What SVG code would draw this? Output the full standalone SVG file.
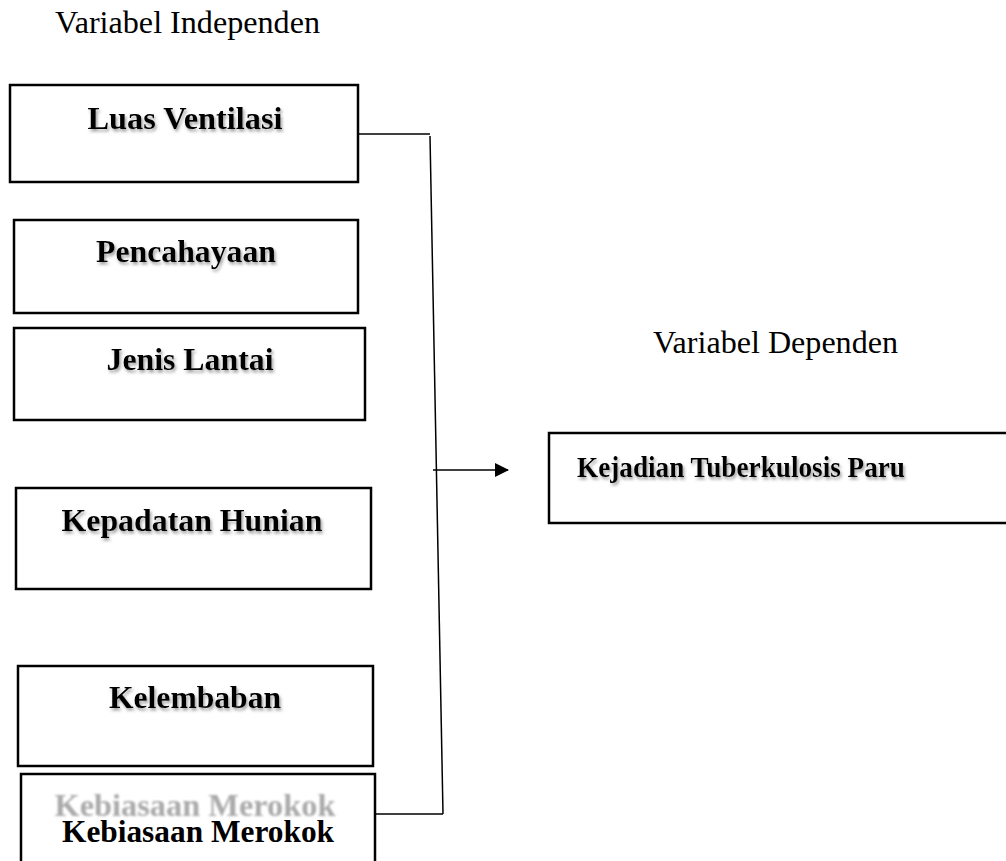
<svg xmlns="http://www.w3.org/2000/svg" width="1006" height="861" viewBox="0 0 1006 861">
<style>
.box{fill:#fff;stroke:#000;stroke-width:2.5}
.lbl{font-family:"Liberation Serif","Times New Roman",serif;font-weight:bold;font-size:32px;fill:#000;text-anchor:middle}
.cap{font-family:"Liberation Serif","Times New Roman",serif;font-size:31px;fill:#000}
.con{fill:none;stroke:#000;stroke-width:1.5}
</style>
<defs>
<filter id="sh" x="-10%" y="-30%" width="120%" height="160%">
<feDropShadow dx="1.5" dy="2.5" stdDeviation="1.5" flood-color="#777" flood-opacity="0.7"/>
</filter>
<filter id="bl"><feGaussianBlur stdDeviation="0.9"/></filter>
<marker id="ah" markerWidth="14" markerHeight="14" refX="13" refY="7" orient="auto" markerUnits="userSpaceOnUse">
<path d="M0,0 L14,7 L0,14 Z" fill="#000"/>
</marker>
</defs>
<text class="cap" x="55" y="33" textLength="265" lengthAdjust="spacingAndGlyphs">Variabel Independen</text>
<text class="cap" x="653" y="353" textLength="245" lengthAdjust="spacingAndGlyphs">Variabel Dependen</text>
<g id="connectors">
<polyline class="con" points="358,134 430,134"/>
<polyline class="con" points="430,136 443,814"/>
<polyline class="con" points="375,814 443,814"/>
<line class="con" x1="433" y1="470" x2="508" y2="470" stroke-width="2" marker-end="url(#ah)"/>
</g>
<g id="n1"><rect class="box" x="10" y="85" width="348" height="97"/>
<text class="lbl" x="185" y="129" textLength="195" lengthAdjust="spacingAndGlyphs" filter="url(#sh)">Luas Ventilasi</text></g>
<g id="n2"><rect class="box" x="14" y="220" width="344" height="93"/>
<text class="lbl" x="186" y="262" textLength="180" lengthAdjust="spacingAndGlyphs" filter="url(#sh)">Pencahayaan</text></g>
<g id="n3"><rect class="box" x="14" y="328" width="351" height="92"/>
<text class="lbl" x="190" y="370" textLength="167" lengthAdjust="spacingAndGlyphs" filter="url(#sh)">Jenis Lantai</text></g>
<g id="n4"><rect class="box" x="16" y="488" width="355" height="101"/>
<text class="lbl" x="192" y="531" textLength="261" lengthAdjust="spacingAndGlyphs" filter="url(#sh)">Kepadatan Hunian</text></g>
<g id="n5"><rect class="box" x="18" y="666" width="355" height="100"/>
<text class="lbl" x="195" y="708" textLength="172" lengthAdjust="spacingAndGlyphs" filter="url(#sh)">Kelembaban</text></g>
<g id="n6"><rect class="box" x="21" y="774" width="354" height="100"/>
<text class="lbl" x="195" y="816" textLength="281" lengthAdjust="spacingAndGlyphs" style="fill:#aaa" filter="url(#bl)">Kebiasaan Merokok</text>
<text class="lbl" x="198" y="842" textLength="272" lengthAdjust="spacingAndGlyphs">Kebiasaan Merokok</text></g>
<g id="n7"><rect class="box" x="549" y="433" width="470" height="90"/>
<text class="lbl" x="741" y="477" textLength="328" lengthAdjust="spacingAndGlyphs" style="font-size:30px" filter="url(#sh)">Kejadian Tuberkulosis Paru</text></g>
</svg>
